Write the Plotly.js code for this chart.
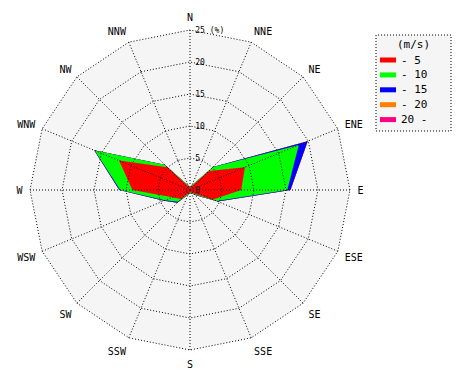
<!DOCTYPE html>
<html><head><meta charset="utf-8">
<script src="https://cdn.plot.ly/plotly-3.0.1.min.js"></script>
<style>body{margin:0;background:#fff}#chart{width:470px;height:380px}</style>
</head><body><div id="chart"></div>
<script>
// Wind directions (clockwise from north)
const directions = ['N','NNE','NE','ENE','E','ESE','SE','SSE','S','SSW','SW','WSW','W','WNW','NW','NNW'];
// Speed classes (m/s) and their colours
const speedClasses = ['- 5','- 10','- 15','- 20','20 -'];
const classColors = ['#ff0000','#00ff00','#0000ff','#ff8000','#ff0080'];
// Frequency (%) per speed class, per direction
const freqTo5     = [0.3,0.6,4.2,9.3,8.0,3.9,0.8,0.4,0.3,0.5,2.0,3.0,9.0,12.0,5.0,0.6];
const freq5to10   = [0.1,0.2,0.8,9.1,7.2,0.6,0.2,0.1,0.1,0.2,0.6,1.2,1.9,4.1,0.6,0.2];
const freq10to15  = [0.0,0.0,0.1,1.5,0.5,0.2,0.1,0.0,0.0,0.1,0.2,0.2,0.15,0.1,0.0,0.0];
const freq15to20  = [0,0,0,0,0,0,0,0,0,0,0,0,0,0,0,0];
const freqOver20  = [0,0,0,0,0,0,0,0,0,0,0,0,0,0,0,0];
// Radial axis ticks
const radialTickVals = [0,5,10,15,20,25];
const radialTickText = ['0','5','10','15','20','25 (%)'];

const classes = [freqTo5, freq5to10, freq10to15, freq15to20, freqOver20];
const cumulative = [];
classes.forEach((arr, k) => {
  cumulative.push(arr.map((v, i) => (k ? cumulative[k-1][i] : 0) + v));
});

const FONT = 'DejaVu Sans Mono, Liberation Mono, monospace';
const traces = [];
for (let k = classes.length - 1; k >= 0; k--) {
  traces.push({
    type: 'scatterpolar', subplot: 'polar',
    r: cumulative[k], theta: directions,
    mode: 'lines', fill: 'toself', fillcolor: classColors[k],
    line: {width: 0, color: classColors[k]},
    name: speedClasses[k], showlegend: false, hoverinfo: 'skip'
  });
}
// carrier trace for the grid overlay subplot
traces.push({
  type: 'scatterpolar', subplot: 'polar2',
  r: directions.map(() => 0), theta: directions,
  mode: 'lines', line: {width: 0}, showlegend: false, hoverinfo: 'skip'
});

const W = 470, H = 380;
const RMAX = 25;
const DOT = '1px,2px';
const domain = {x: [30/W, 350/W], y: [30/H, 350/H]};
const baseAng = {type: 'category', categoryorder: 'array', categoryarray: directions,
                 rotation: 90, direction: 'clockwise'};

// manual legend
const shapes = [{type: 'rect', xref: 'paper', yref: 'paper',
  x0: 376/W, x1: 451/W, y0: 1 - 131/H, y1: 1 - 35/H,
  fillcolor: '#f5f5f5', line: {color: '#000', width: 1, dash: DOT}}];
const annotations = [{xref: 'paper', yref: 'paper', x: 413/W, y: 1 - 44/H,
  text: '(m/s)', showarrow: false, xanchor: 'center', yanchor: 'middle',
  font: {family: FONT, size: 11, color: '#000'}}];
speedClasses.forEach((lab, k) => {
  const yc = 60 + k * 14.9;
  shapes.push({type: 'rect', xref: 'paper', yref: 'paper',
    x0: 380/W, x1: 396/W, y0: 1 - (yc + 2.5)/H, y1: 1 - (yc - 2.5)/H,
    fillcolor: classColors[k], line: {width: 0}});
  annotations.push({xref: 'paper', yref: 'paper', x: 399/W, y: 1 - yc/H,
    text: lab, showarrow: false, xanchor: 'left', yanchor: 'middle',
    font: {family: FONT, size: 11, color: '#000'}});
});

const layout = {
  width: W, height: H, margin: {l: 0, r: 0, t: 0, b: 0},
  paper_bgcolor: '#fff', showlegend: false,
  font: {family: FONT, color: '#000'},
  polar: {
    domain: domain, bgcolor: '#f5f5f5', gridshape: 'linear',
    angularaxis: Object.assign({}, baseAng, {showgrid: false, showticklabels: false, showline: false, ticks: ''}),
    radialaxis: {range: [0, RMAX], showgrid: false, showticklabels: false, showline: false, ticks: ''}
  },
  polar2: {
    domain: domain, bgcolor: 'rgba(0,0,0,0)', gridshape: 'linear',
    angularaxis: Object.assign({}, baseAng, {showgrid: true, gridcolor: '#000', gridwidth: 1, griddash: DOT,
      showline: true, linecolor: '#000', linewidth: 1,
      ticks: 'outside', ticklen: 5, tickcolor: 'rgba(0,0,0,0)',
      tickfont: {family: FONT, size: 10, color: '#000'}}),
    radialaxis: {range: [0, RMAX], angle: 90, side: 'clockwise', tickangle: 90,
      tickvals: radialTickVals, ticktext: radialTickText.map(t => '\u00a0' + t),
      showgrid: true, gridcolor: '#000', gridwidth: 1, griddash: DOT,
      showline: false, ticks: '', tickfont: {family: FONT, size: 8, color: '#000'}}
  },
  shapes: shapes, annotations: annotations
};
function dotFrame(gd) {
  // outer frame of the rose is dotted like the grid
  gd.querySelectorAll('.angular-line path, path.angular-line, path.angularline, .angular-line').forEach(p => {
    p.style.strokeDasharray = DOT;
    p.setAttribute('stroke-dasharray', DOT);
  });
}
Plotly.newPlot('chart', traces, layout, {displayModeBar: false, staticPlot: true}).then(gd => {
  dotFrame(gd);
  gd.on('plotly_afterplot', () => dotFrame(gd));
});
</script></body></html>
